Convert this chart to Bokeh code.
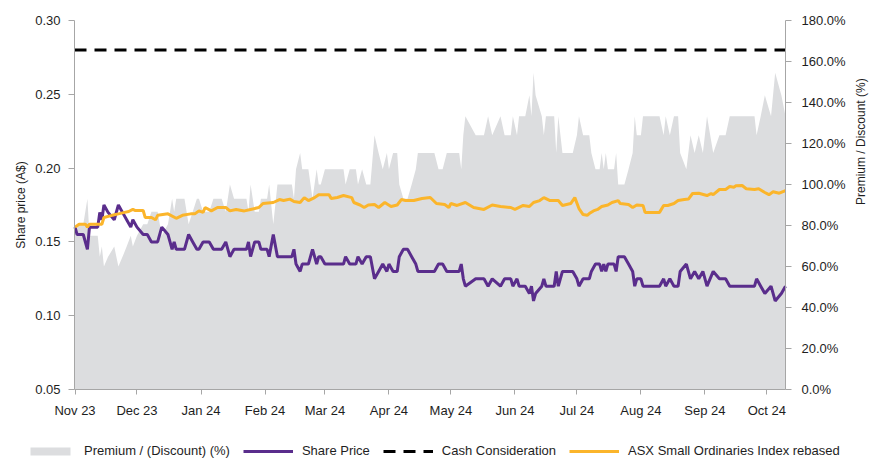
import math
import pandas as pd
from bokeh.plotting import figure
from bokeh.models import (Range1d, LinearAxis, NumeralTickFormatter, DatetimeTickFormatter,
                          MonthsTicker, FixedTicker, Legend, LegendItem)
from bokeh.embed import file_html
from bokeh.resources import INLINE

# ---------------- data ----------------
dates = [
    "2023-11-01", "2023-11-02", "2023-11-05", "2023-11-07", "2023-11-08", "2023-11-12", "2023-11-13",
    "2023-11-14", "2023-11-15", "2023-11-17", "2023-11-20", "2023-11-22", "2023-11-24", "2023-11-26",
    "2023-11-28", "2023-11-29", "2023-12-01", "2023-12-04", "2023-12-06", "2023-12-08", "2023-12-11",
    "2023-12-13", "2023-12-16", "2023-12-17", "2023-12-18", "2023-12-19", "2023-12-20", "2023-12-24",
    "2023-12-26", "2023-12-28", "2023-12-30", "2023-12-31", "2024-01-02", "2024-01-05", "2024-01-07",
    "2024-01-11", "2024-01-13", "2024-01-15", "2024-01-17", "2024-01-23", "2024-01-24", "2024-01-25",
    "2024-01-27", "2024-01-29", "2024-01-30", "2024-02-02", "2024-02-03", "2024-02-05", "2024-02-07",
    "2024-02-14", "2024-02-15", "2024-02-16", "2024-02-18", "2024-02-19", "2024-02-22", "2024-02-24",
    "2024-02-26", "2024-02-27", "2024-02-28", "2024-03-01", "2024-03-03", "2024-03-10", "2024-03-11",
    "2024-03-13", "2024-03-16", "2024-03-17", "2024-03-19", "2024-03-21", "2024-03-23", "2024-03-25",
    "2024-03-27", "2024-03-29", "2024-03-31", "2024-04-01", "2024-04-03", "2024-04-05", "2024-04-06",
    "2024-04-08", "2024-04-10", "2024-04-12", "2024-04-14", "2024-04-15", "2024-04-23", "2024-04-25",
    "2024-04-27", "2024-04-29", "2024-05-05", "2024-05-06", "2024-05-07", "2024-05-08", "2024-05-13",
    "2024-05-17", "2024-05-19", "2024-05-21", "2024-05-25", "2024-05-27", "2024-05-30", "2024-05-31",
    "2024-06-02", "2024-06-03", "2024-06-06", "2024-06-08", "2024-06-09", "2024-06-10", "2024-06-11",
    "2024-06-14", "2024-06-15", "2024-06-16", "2024-06-20", "2024-06-21", "2024-06-22", "2024-06-24",
    "2024-06-29", "2024-07-01", "2024-07-02", "2024-07-04", "2024-07-07", "2024-07-08", "2024-07-10",
    "2024-07-12", "2024-07-13", "2024-07-14", "2024-07-15", "2024-07-16", "2024-07-19", "2024-07-20",
    "2024-07-21", "2024-07-24", "2024-07-26", "2024-07-28", "2024-07-29", "2024-07-30", "2024-08-01",
    "2024-08-02", "2024-08-10", "2024-08-12", "2024-08-13", "2024-08-15", "2024-08-17", "2024-08-19",
    "2024-08-20", "2024-08-23", "2024-08-25", "2024-08-27", "2024-08-29", "2024-08-31", "2024-09-02",
    "2024-09-05", "2024-09-08", "2024-09-11", "2024-09-13", "2024-09-25", "2024-09-26", "2024-09-28",
    "2024-09-30", "2024-10-03", "2024-10-05", "2024-10-08", "2024-10-10",
]

share_price = [
    0.160, 0.155, 0.155, 0.145, 0.160, 0.160, 0.170, 0.165, 0.175, 0.170, 0.165, 0.175, 0.170, 0.165,
    0.160, 0.165, 0.160, 0.155, 0.155, 0.150, 0.150, 0.160, 0.155, 0.150, 0.145, 0.150, 0.145, 0.145,
    0.155, 0.150, 0.145, 0.145, 0.150, 0.150, 0.145, 0.145, 0.150, 0.140, 0.145, 0.145, 0.150, 0.140,
    0.150, 0.150, 0.145, 0.145, 0.140, 0.155, 0.140, 0.140, 0.145, 0.135, 0.130, 0.135, 0.135, 0.145,
    0.135, 0.140, 0.140, 0.135, 0.135, 0.135, 0.140, 0.135, 0.135, 0.140, 0.135, 0.140, 0.140, 0.125,
    0.130, 0.135, 0.130, 0.135, 0.130, 0.130, 0.140, 0.145, 0.145, 0.140, 0.135, 0.130, 0.130, 0.135,
    0.135, 0.130, 0.130, 0.135, 0.125, 0.120, 0.125, 0.125, 0.120, 0.125, 0.120, 0.125, 0.125, 0.120,
    0.125, 0.120, 0.120, 0.115, 0.120, 0.110, 0.115, 0.120, 0.125, 0.120, 0.120, 0.130, 0.120, 0.130,
    0.130, 0.125, 0.120, 0.125, 0.125, 0.130, 0.135, 0.135, 0.130, 0.135, 0.130, 0.135, 0.135, 0.130,
    0.140, 0.140, 0.135, 0.130, 0.120, 0.125, 0.125, 0.120, 0.120, 0.125, 0.120, 0.125, 0.120, 0.120,
    0.130, 0.135, 0.125, 0.130, 0.125, 0.130, 0.120, 0.130, 0.125, 0.125, 0.120, 0.120, 0.125, 0.120,
    0.115, 0.120, 0.110, 0.115, 0.120,
]

premium_discount = [
    0.750, 0.806, 0.806, 0.931, 0.750, 0.750, 0.647, 0.697, 0.600, 0.647, 0.697, 0.600, 0.647, 0.697,
    0.750, 0.697, 0.750, 0.806, 0.806, 0.867, 0.867, 0.750, 0.806, 0.867, 0.931, 0.867, 0.931, 0.931,
    0.806, 0.867, 0.931, 0.931, 0.867, 0.867, 0.931, 0.931, 0.867, 1.000, 0.931, 0.931, 0.867, 1.000,
    0.867, 0.867, 0.931, 0.931, 1.000, 0.806, 1.000, 1.000, 0.931, 1.074, 1.154, 1.074, 1.074, 0.931,
    1.074, 1.000, 1.000, 1.074, 1.074, 1.074, 1.000, 1.074, 1.074, 1.000, 1.074, 1.000, 1.000, 1.240,
    1.154, 1.074, 1.154, 1.074, 1.154, 1.154, 1.000, 0.931, 0.931, 1.000, 1.074, 1.154, 1.154, 1.074,
    1.074, 1.154, 1.154, 1.074, 1.240, 1.333, 1.240, 1.240, 1.333, 1.240, 1.333, 1.240, 1.240, 1.333,
    1.240, 1.333, 1.333, 1.435, 1.333, 1.545, 1.435, 1.333, 1.240, 1.333, 1.333, 1.154, 1.333, 1.154,
    1.154, 1.240, 1.333, 1.240, 1.240, 1.154, 1.074, 1.074, 1.154, 1.074, 1.154, 1.074, 1.074, 1.154,
    1.000, 1.000, 1.074, 1.154, 1.333, 1.240, 1.240, 1.333, 1.333, 1.240, 1.333, 1.240, 1.333, 1.333,
    1.154, 1.074, 1.240, 1.154, 1.240, 1.154, 1.333, 1.154, 1.240, 1.240, 1.333, 1.333, 1.240, 1.333,
    1.435, 1.333, 1.545, 1.435, 1.333,
]

index_dates = [
    "2023-11-01", "2023-11-03", "2023-11-06", "2023-11-07", "2023-11-08", "2023-11-14", "2023-11-15",
    "2023-11-19", "2023-11-22", "2023-11-25", "2023-11-27", "2023-11-29", "2023-11-30", "2023-12-04",
    "2023-12-05", "2023-12-08", "2023-12-10", "2023-12-11", "2023-12-16", "2023-12-20", "2023-12-23",
    "2023-12-27", "2023-12-29", "2023-12-31", "2024-01-02", "2024-01-03", "2024-01-06", "2024-01-09",
    "2024-01-13", "2024-01-15", "2024-01-18", "2024-01-22", "2024-01-25", "2024-01-29", "2024-01-31",
    "2024-02-05", "2024-02-08", "2024-02-10", "2024-02-13", "2024-02-15", "2024-02-18", "2024-02-20",
    "2024-02-22", "2024-02-25", "2024-02-27", "2024-03-01", "2024-03-03", "2024-03-04", "2024-03-07",
    "2024-03-10", "2024-03-14", "2024-03-15", "2024-03-18", "2024-03-20", "2024-03-22", "2024-03-25",
    "2024-03-27", "2024-03-30", "2024-04-02", "2024-04-05", "2024-04-07", "2024-04-09", "2024-04-13",
    "2024-04-17", "2024-04-21", "2024-04-24", "2024-04-28", "2024-04-30", "2024-05-01", "2024-05-04",
    "2024-05-08", "2024-05-12", "2024-05-17", "2024-05-21", "2024-05-25", "2024-05-30", "2024-06-01",
    "2024-06-05", "2024-06-08", "2024-06-10", "2024-06-13", "2024-06-15", "2024-06-18", "2024-06-22",
    "2024-06-24", "2024-06-28", "2024-06-30", "2024-07-02", "2024-07-04", "2024-07-06", "2024-07-07",
    "2024-07-09", "2024-07-11", "2024-07-13", "2024-07-16", "2024-07-18", "2024-07-21", "2024-07-22",
    "2024-07-26", "2024-07-28", "2024-07-30", "2024-08-02", "2024-08-03", "2024-08-10", "2024-08-12",
    "2024-08-14", "2024-08-17", "2024-08-19", "2024-08-22", "2024-08-24", "2024-08-26", "2024-08-29",
    "2024-09-02", "2024-09-04", "2024-09-05", "2024-09-08", "2024-09-11", "2024-09-13", "2024-09-15",
    "2024-09-16", "2024-09-19", "2024-09-21", "2024-09-25", "2024-09-27", "2024-09-30", "2024-10-02",
    "2024-10-04", "2024-10-07", "2024-10-10",
]

index_rebased = [
    0.160, 0.162, 0.162, 0.160, 0.162, 0.162, 0.1665, 0.168, 0.169, 0.170, 0.1706, 0.172, 0.1713, 0.1713,
    0.1665, 0.1665, 0.165, 0.168, 0.169, 0.166, 0.168, 0.169, 0.169, 0.171, 0.170, 0.1733, 0.171, 0.1733,
    0.1733, 0.171, 0.172, 0.171, 0.172, 0.1733, 0.176, 0.1767, 0.1787, 0.178, 0.179, 0.1774, 0.1767, 0.180,
    0.178, 0.180, 0.182, 0.182, 0.182, 0.1794, 0.1801, 0.1814, 0.180, 0.1767, 0.175, 0.1733, 0.175, 0.1753,
    0.1733, 0.1767, 0.174, 0.175, 0.1787, 0.178, 0.178, 0.1794, 0.1801, 0.176, 0.1753, 0.1733, 0.176, 0.1747,
    0.1767, 0.1733, 0.172, 0.175, 0.174, 0.1733, 0.172, 0.1747, 0.174, 0.1767, 0.178, 0.180, 0.178, 0.178,
    0.1747, 0.176, 0.180, 0.1726, 0.1685, 0.168, 0.1692, 0.171, 0.172, 0.174, 0.175, 0.1767, 0.178, 0.176,
    0.1753, 0.1733, 0.175, 0.1747, 0.170, 0.170, 0.1747, 0.1747, 0.176, 0.178, 0.1787, 0.179, 0.1828, 0.183,
    0.1814, 0.1828, 0.182, 0.1855, 0.1855, 0.1875, 0.187, 0.188, 0.1882, 0.186, 0.1855, 0.186, 0.1835, 0.182,
    0.184, 0.183, 0.1848,
]

cash_consideration = 0.28

price_ticks = [0.05, 0.10, 0.15, 0.20, 0.25, 0.30]
premium_ticks = [0.0, 0.2, 0.4, 0.6, 0.8, 1.0, 1.2, 1.4, 1.6, 1.8]

legend_labels = ["Premium / (Discount) (%)", "Share Price", "Cash Consideration",
                 "ASX Small Ordinaries Index rebased"]

# ---------------- styles / layout (pixels) ----------------
W, H = 870, 462
PLOT_L, PLOT_R, PLOT_T, PLOT_B = 74, 785, 20, 389   # where the axes sit
FONT = "Liberation Sans"
TXT = "#1e1e1e"
AXC = "#a6a6a6"
AREA_C = "#dcdddf"
PRICE_C = "#5a2d8c"
INDEX_C = "#fbb52b"
CASH_C = "black"
CASH_DASH = "12 8"

# ---------------- figure ----------------
x = pd.to_datetime(dates)
xi = pd.to_datetime(index_dates)
x_start = x[0] - pd.Timedelta(hours=6)
x_end = x[-1]
xs_ms = x_start.value / 1e6
xe_ms = x_end.value / 1e6

# the frame covers the whole canvas; axes are pinned at the data edges (fixed_location)
sx = (xe_ms - xs_ms) / (PLOT_R - PLOT_L)
sy = (price_ticks[-1] - price_ticks[0]) / (PLOT_B - PLOT_T)
sp = (premium_ticks[-1] - premium_ticks[0]) / (PLOT_B - PLOT_T)

p = figure(width=W, height=H, x_axis_type="datetime",
           x_range=Range1d(xs_ms - PLOT_L * sx, xe_ms + (W - PLOT_R) * sx),
           y_range=Range1d(price_ticks[0] - (H - PLOT_B) * sy, price_ticks[-1] + PLOT_T * sy),
           output_backend="svg", toolbar_location=None,
           min_border=0, min_border_left=0, min_border_right=0, min_border_top=0, min_border_bottom=0)
p.extra_y_ranges = {"prem": Range1d(premium_ticks[0] - (H - PLOT_B) * sp,
                                    premium_ticks[-1] + PLOT_T * sp)}
p.xgrid.visible = False
p.ygrid.visible = False
p.outline_line_color = None

area = p.varea(x=x, y1=0, y2=premium_discount, y_range_name="prem", fill_color=AREA_C)
price = p.line(x, share_price, line_color=PRICE_C, line_width=3)
cash = p.line([x_start, x_end], [cash_consideration, cash_consideration],
              line_color=CASH_C, line_width=3, line_dash=CASH_DASH)
idx = p.line(xi, index_rebased, line_color=INDEX_C, line_width=3)

right = LinearAxis(y_range_name="prem", ticker=FixedTicker(ticks=premium_ticks),
                   formatter=NumeralTickFormatter(format="0.0%"),
                   axis_label="Premium / Discount (%)",
                   fixed_location=xe_ms, bounds=(premium_ticks[0], premium_ticks[-1]))
p.add_layout(right, "right")

left = p.yaxis[0]
left.ticker = FixedTicker(ticks=price_ticks)
left.formatter = NumeralTickFormatter(format="0.00")
left.axis_label = "Share price (A$)"
left.fixed_location = xs_ms
left.bounds = (price_ticks[0], price_ticks[-1])

bottom = p.xaxis[0]
bottom.ticker = MonthsTicker(months=list(range(12)))
bottom.formatter = DatetimeTickFormatter(months="%b %y", days="%b %y", years="%b %y")
bottom.fixed_location = price_ticks[0]
bottom.bounds = (xs_ms, xe_ms)

for ax in [bottom, left, right]:
    ax.axis_line_color = AXC
    ax.major_tick_line_color = AXC
    ax.minor_tick_line_color = None
    ax.major_tick_in = 0
    ax.major_tick_out = 6
    ax.major_label_text_font = FONT
    ax.major_label_text_font_size = "13px"
    ax.major_label_text_color = TXT
    ax.axis_label_text_font = FONT
    ax.axis_label_text_font_size = "12px"
    ax.axis_label_text_font_style = "normal"
    ax.axis_label_text_color = TXT

bottom.major_tick_out = 5
bottom.major_label_standoff = 8
left.major_label_standoff = 8
left.axis_label_standoff = 4
right.major_label_standoff = 10
right.axis_label_standoff = 12
right.axis_label_orientation = math.pi / 2

legend = Legend(items=[
    LegendItem(label=legend_labels[0], renderers=[area]),
    LegendItem(label=legend_labels[1], renderers=[price]),
    LegendItem(label=legend_labels[2], renderers=[cash]),
    LegendItem(label=legend_labels[3], renderers=[idx]),
], orientation="horizontal", location=(23, 2))
legend.background_fill_alpha = 0
legend.border_line_alpha = 0
legend.label_text_font = FONT
legend.label_text_font_size = "13px"
legend.label_text_color = TXT
legend.glyph_width = 50
legend.glyph_height = 10
legend.label_height = 12
legend.label_standoff = 9
legend.spacing = 13
legend.padding = 2
legend.margin = 0
p.add_layout(legend)

open("out.html", "w").write(file_html(p, INLINE))
